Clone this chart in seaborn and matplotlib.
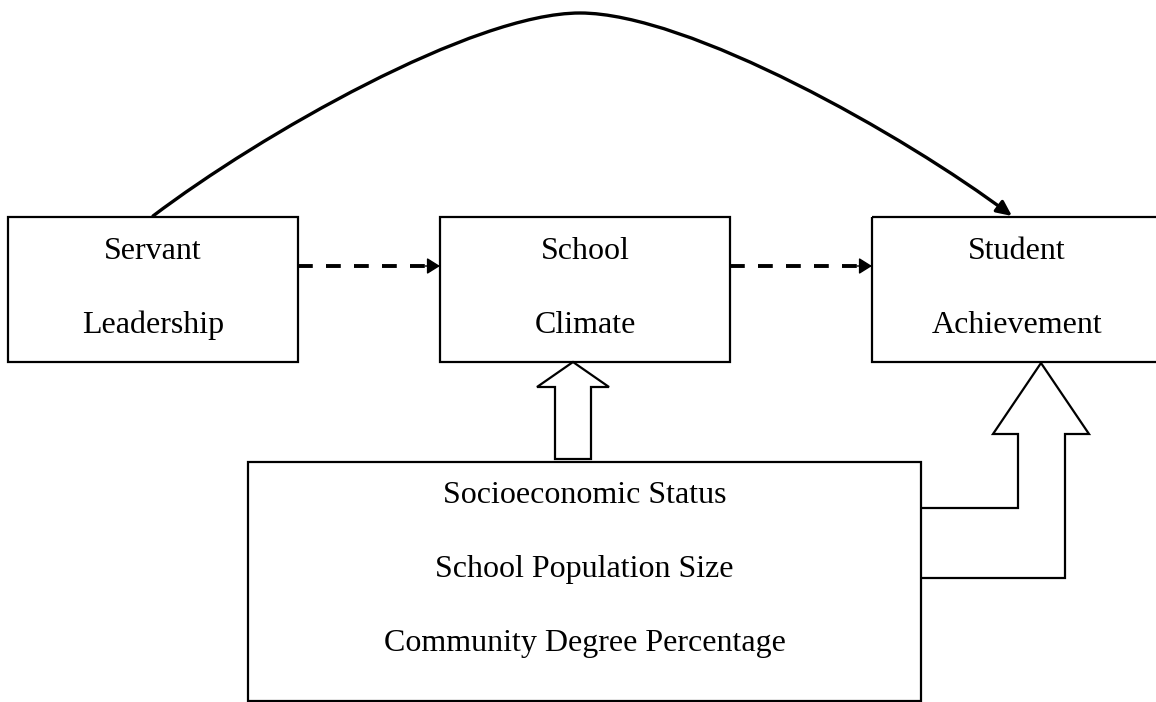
import matplotlib
matplotlib.use("Agg")
import matplotlib.pyplot as plt
import seaborn as sns
from matplotlib.patches import Rectangle, Polygon, FancyArrowPatch, ArrowStyle
from matplotlib.path import Path

# labels of the path model
top_words = ["Servant", "School", "Student"]
bottom_words = ["Leadership", "Climate", "Achievement"]
covariates = ["Socioeconomic Status", "School Population Size", "Community Degree Percentage"]

# layout, in pixel units of the 1156x702 canvas
box_left = [8, 440, 872]
box_w = 290
box_top, box_bot = 217, 362
cov_box = (248, 462, 921, 701)
dash_y = 266

sns.set_theme(style="white")
plt.rcParams['font.family'] = ['Liberation Serif', 'DejaVu Serif']
plt.rcParams['text.color'] = 'black'

fig = plt.figure(figsize=(11.56, 7.02), dpi=100)
ax = fig.add_axes([0, 0, 1, 1])
ax.set_xlim(0, 1156)
ax.set_ylim(702, 0)
ax.axis("off")

# the three construct boxes
for left, w1, w2 in zip(box_left, top_words, bottom_words):
    ax.add_patch(Rectangle((left, box_top), box_w, box_bot - box_top,
                           fill=False, ec="black", lw=1.6, joinstyle="miter"))
    cx = left + box_w / 2
    ax.text(cx, 259, w1, ha="center", va="baseline", fontsize=23, color="black")
    ax.text(cx, 333, w2, ha="center", va="baseline", fontsize=23, color="black")

# covariate box
x0, y0, x1, y1 = cov_box
ax.add_patch(Rectangle((x0, y0), x1 - x0, y1 - y0, fill=False, ec="black", lw=1.6))
for txt, base in zip(covariates, [503, 577, 651]):
    ax.text((x0 + x1) / 2, base, txt, ha="center", va="baseline", fontsize=23, color="black")

# dashed mediation arrows
head = ArrowStyle("-|>", head_length=8, head_width=5)
for a, b in [(box_left[0] + box_w, box_left[1]), (box_left[1] + box_w, box_left[2])]:
    sns.lineplot(x=[a, b - 14], y=[dash_y, dash_y], ax=ax, color="black",
                 lw=2.8, linestyle=(0, (3.8, 3.4)))
    ax.add_patch(FancyArrowPatch((b - 15, dash_y), (b, dash_y), arrowstyle=head,
                                 mutation_scale=1, shrinkA=0, shrinkB=0,
                                 color="black", lw=1))

# direct effect arc (two bezier halves meeting at the top)
arc = Path([(153, 216), (260, 135), (473, 13), (580, 13),
            (688, 13), (904, 135), (1012, 216)],
           [Path.MOVETO, Path.CURVE4, Path.CURVE4, Path.CURVE4,
            Path.CURVE4, Path.CURVE4, Path.CURVE4])
ax.add_patch(FancyArrowPatch(path=arc,
                             arrowstyle=ArrowStyle("-|>", head_length=9, head_width=4.2),
                             mutation_scale=1, color="black", lw=2.4))

# hollow block arrow to School Climate
ax.add_patch(Polygon([(573, 362), (609, 387), (591, 387), (591, 459),
                      (555, 459), (555, 387), (537, 387)],
                     closed=True, fill=False, ec="black", lw=1.6, joinstyle="miter"))

# hollow bent arrow to Student Achievement
ax.add_patch(Polygon([(921, 578), (1065, 578), (1065, 434), (1089, 434), (1041, 363),
                      (993, 434), (1018, 434), (1018, 508), (921, 508)],
                     closed=False, fill=False, ec="black", lw=1.6, joinstyle="miter"))

fig.savefig("out.png", dpi=100, facecolor="white")
